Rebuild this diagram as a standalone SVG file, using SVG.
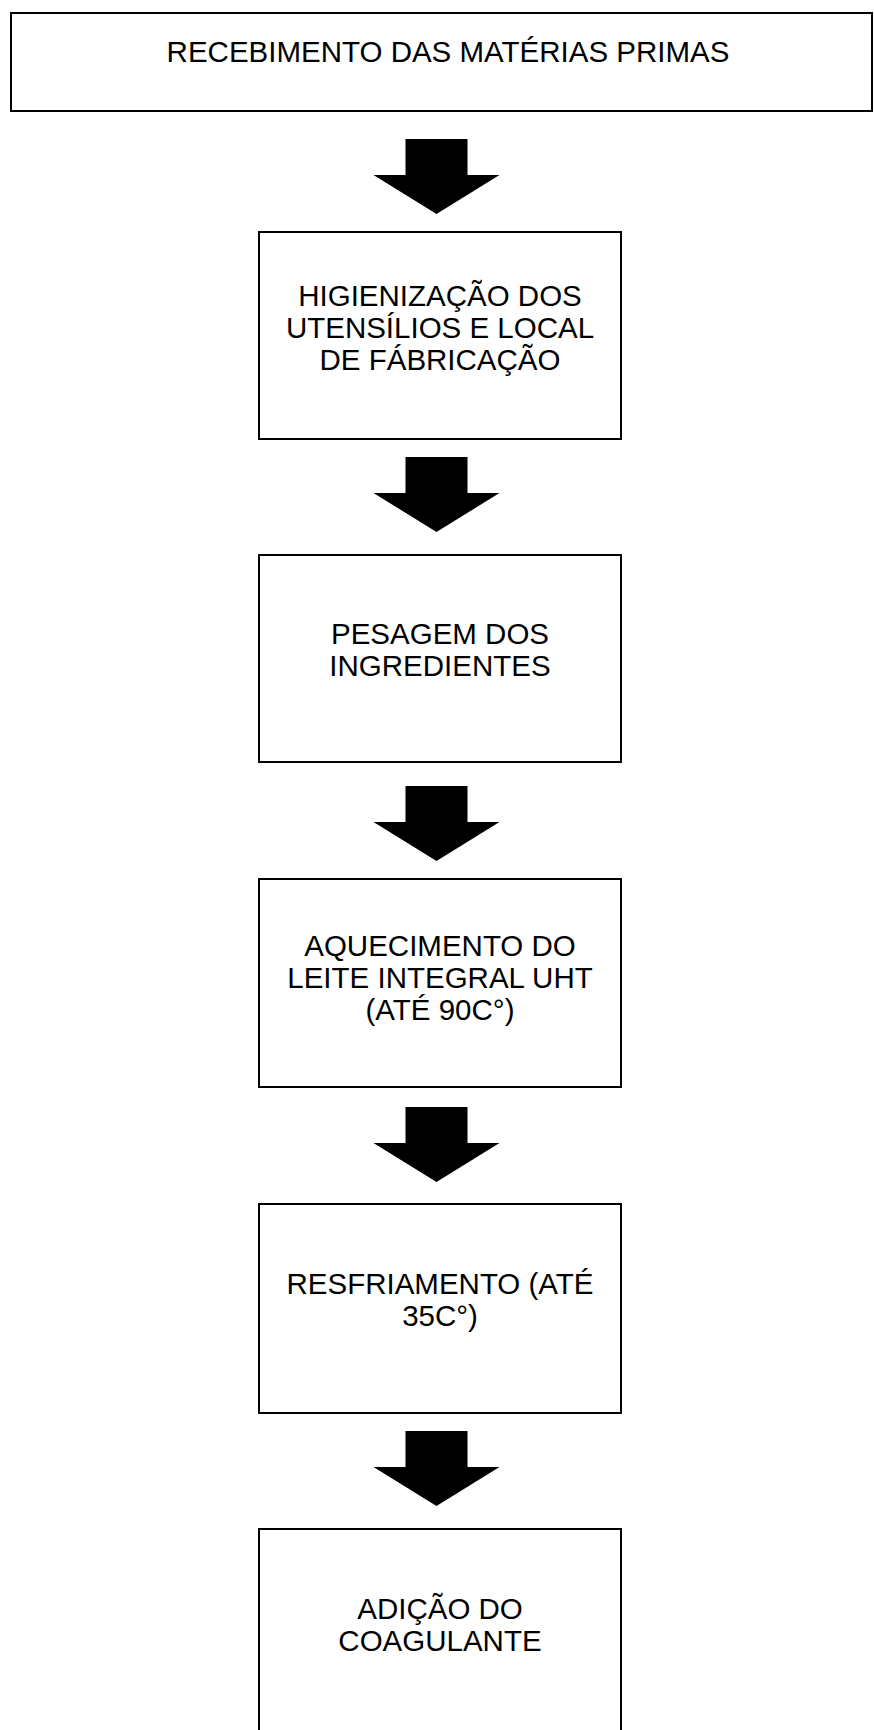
<svg xmlns="http://www.w3.org/2000/svg" width="874" height="1730" viewBox="0 0 874 1730">
<style>
.box{fill:#fff;stroke:#000;stroke-width:2}
.t{font-family:"Liberation Sans",Arial,sans-serif;font-size:29.5px;fill:#000;text-anchor:middle}
.arr{fill:#000}
</style>
<defs>
<path id="arrow" d="M-31,0 H31 V36 H63 L0,75 L-63,36 H-31 Z"/>
</defs>
<rect width="874" height="1730" fill="#fff"/>
<g id="n1"><rect class="box" x="11" y="13" width="861" height="98"/><text class="t" x="448" y="62">RECEBIMENTO DAS MATÉRIAS PRIMAS</text></g>
<g id="n2"><rect class="box" x="259" y="232" width="362" height="207"/><text class="t" x="440" y="306">HIGIENIZAÇÃO DOS</text><text class="t" x="440" y="338">UTENSÍLIOS E LOCAL</text><text class="t" x="440" y="370">DE FÁBRICAÇÃO</text></g>
<g id="n3"><rect class="box" x="259" y="555" width="362" height="207"/><text class="t" x="440" y="644">PESAGEM DOS</text><text class="t" x="440" y="676">INGREDIENTES</text></g>
<g id="n4"><rect class="box" x="259" y="879" width="362" height="208"/><text class="t" x="440" y="956">AQUECIMENTO DO</text><text class="t" x="440" y="988">LEITE INTEGRAL UHT</text><text class="t" x="440" y="1020">(ATÉ 90C°)</text></g>
<g id="n5"><rect class="box" x="259" y="1204" width="362" height="209"/><text class="t" x="440" y="1294">RESFRIAMENTO (ATÉ</text><text class="t" x="440" y="1326">35C°)</text></g>
<g id="n6"><rect class="box" x="259" y="1529" width="362" height="220"/><text class="t" x="440" y="1619">ADIÇÃO DO</text><text class="t" x="440" y="1651">COAGULANTE</text></g>
<g id="connectors" class="arr">
<use href="#arrow" x="436.5" y="139"/>
<use href="#arrow" x="436.5" y="457"/>
<use href="#arrow" x="436.5" y="786"/>
<use href="#arrow" x="436.5" y="1107"/>
<use href="#arrow" x="436.5" y="1431"/>
</g>
</svg>
